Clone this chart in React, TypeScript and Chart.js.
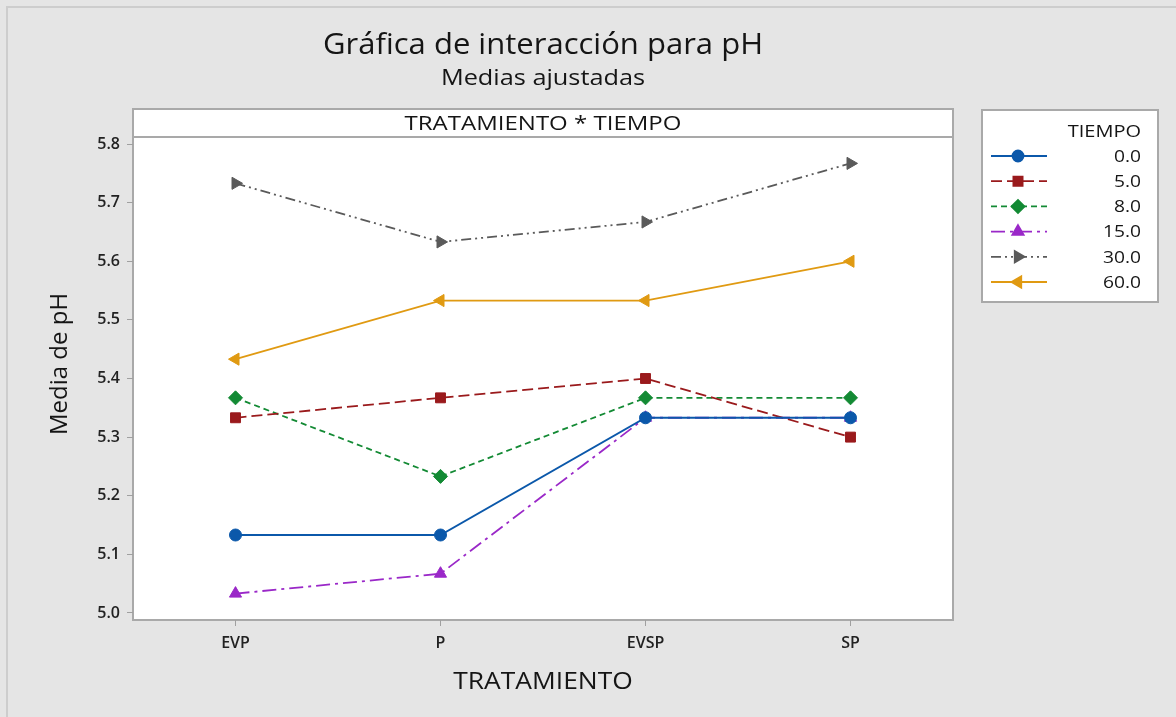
import React, { useEffect, useRef } from "react";
import { Chart, registerables } from "chart.js";
import { drawPoint } from "chart.js/helpers";

Chart.register(...registerables);

const categories = ["EVP", "P", "EVSP", "SP"];
const tiempoLabels = ["0.0", "5.0", "8.0", "15.0", "30.0", "60.0"];
const t0 = [5.133, 5.133, 5.333, 5.333];
const t5 = [5.333, 5.367, 5.4, 5.3];
const t8 = [5.367, 5.233, 5.367, 5.367];
const t15 = [5.033, 5.067, 5.333, 5.333];
const t30 = [5.733, 5.633, 5.667, 5.767];
const t60 = [5.433, 5.533, 5.533, 5.6];
const yTicks = [5.0, 5.1, 5.2, 5.3, 5.4, 5.5, 5.6, 5.7, 5.8];

const seriesValues = [t0, t5, t8, t15, t30, t60];
const colors = ["#0b58aa", "#9a1a1c", "#138a34", "#9a28c8", "#5a5a5a", "#e09a12"];
const dashes: number[][] = [[], [11, 5], [6, 4], [14, 5, 3, 5], [10, 4, 2, 4, 2, 4], []];
const pointStyles = ["circle", "rect", "rectRot", "triangle", "triangle", "triangle"];
const rotations = [0, 0, 0, 0, 90, -90];
const radii = [6, 7, 7, 7, 7, 7];

const FONT = "'Open Sans', 'Noto Sans', sans-serif";
const TEXT = "#151515";

function wideText(ctx: any, text: string, x: number, y: number, font: string, sx: number, align: string, rot = 0) {
  ctx.save();
  ctx.translate(x, y);
  if (rot) ctx.rotate(rot);
  ctx.scale(sx, 1);
  ctx.font = font;
  ctx.fillStyle = TEXT;
  ctx.textAlign = align;
  ctx.textBaseline = "middle";
  ctx.fillText(text, 0, 0);
  ctx.restore();
}

const decor = {
  id: "decor",
  beforeDraw(chart: any) {
    const { ctx, chartArea: a, width, height } = chart;
    const cx = (a.left + a.right) / 2;
    ctx.save();
    ctx.fillStyle = "#e5e5e5";
    ctx.fillRect(0, 0, width, height);
    ctx.strokeStyle = "#cdcdcd";
    ctx.lineWidth = 2;
    ctx.beginPath();
    ctx.moveTo(7, height + 5);
    ctx.lineTo(7, 7);
    ctx.lineTo(width + 5, 7);
    ctx.stroke();
    ctx.fillStyle = "#ffffff";
    ctx.fillRect(a.left, 109, a.right - a.left, a.top - 109);
    ctx.fillRect(a.left, a.top, a.right - a.left, a.bottom - a.top);
    ctx.strokeStyle = "#a9a9a9";
    ctx.lineWidth = 2;
    ctx.strokeRect(a.left, 109, a.right - a.left, a.top - 109);
    ctx.strokeRect(a.left, a.top, a.right - a.left, a.bottom - a.top);
    ctx.restore();
    wideText(ctx, "TRATAMIENTO * TIEMPO", cx, 124, `500 20px ${FONT}`, 1.2, "center");
    wideText(ctx, "Gráfica de interacción para pH", cx, 46, `500 29px ${FONT}`, 1.07, "center");
    wideText(ctx, "Medias ajustadas", cx, 79, `500 22px ${FONT}`, 1.15, "center");
    wideText(ctx, "TRATAMIENTO", cx, 682, `500 24px ${FONT}`, 1.1, "center");
    wideText(ctx, "Media de pH", 60, 364, `500 24px ${FONT}`, 1.0, "center", -Math.PI / 2);
  },
  afterDraw(chart: any) {
    const { ctx } = chart;
    ctx.save();
    const bx = 982, by = 110, bw = 176, bh = 192;
    ctx.fillStyle = "#ffffff";
    ctx.fillRect(bx, by, bw, bh);
    ctx.strokeStyle = "#a9a9a9";
    ctx.lineWidth = 2;
    ctx.strokeRect(bx, by, bw, bh);
    ctx.restore();
    wideText(ctx, "TIEMPO", 1141, 132, `500 16px ${FONT}`, 1.25, "right");
    chart.data.datasets.forEach((ds: any, i: number) => {
      const y = 156 + i * 25.2;
      ctx.save();
      ctx.strokeStyle = ds.borderColor;
      ctx.lineWidth = 1.8;
      ctx.setLineDash(ds.borderDash || []);
      ctx.beginPath();
      ctx.moveTo(991, y);
      ctx.lineTo(1047, y);
      ctx.stroke();
      ctx.setLineDash([]);
      ctx.fillStyle = ds.borderColor;
      ctx.strokeStyle = ds.borderColor;
      drawPoint(ctx, { pointStyle: ds.pointStyle, rotation: ds.pointRotation, radius: ds.pointRadius - 0.5, borderWidth: 1 }, 1018, y);
      ctx.restore();
      wideText(ctx, ds.label, 1141, y + 1, `500 17px ${FONT}`, 1.13, "right");
    });
  },
};

export default function App() {
  const ref = useRef<HTMLCanvasElement>(null);
  useEffect(() => {
    document.body.style.margin = "0";
    const datasets = seriesValues.map((vals, i) => ({
      label: tiempoLabels[i],
      data: vals,
      borderColor: colors[i],
      backgroundColor: colors[i],
      borderWidth: 1.8,
      borderDash: dashes[i],
      pointStyle: pointStyles[i],
      pointRotation: rotations[i],
      pointRadius: radii[i],
      pointBackgroundColor: colors[i],
      pointBorderColor: colors[i],
      pointBorderWidth: 1,
      tension: 0,
    }));
    const chart = new Chart(ref.current!, {
      type: "line",
      data: { labels: categories, datasets },
      plugins: [decor],
      options: {
        animation: false,
        responsive: false,
        maintainAspectRatio: false,
        layout: { padding: { top: 137, right: 223, left: 0, bottom: 0 } },
        plugins: { legend: { display: false }, title: { display: false }, tooltip: { enabled: false } },
        scales: {
          x: {
            type: "category",
            offset: true,
            grid: { display: true, drawOnChartArea: false, offset: false, tickLength: 6, color: "#a0a0a0", lineWidth: 1 },
            border: { display: false },
            ticks: { color: "#222", font: { family: FONT, size: 16, weight: "600" }, padding: 8, maxRotation: 0 },
            afterFit: (s: any) => { s.height = 97; },
          },
          y: {
            type: "linear",
            min: 4.988,
            max: 5.812,
            afterBuildTicks: (s: any) => { s.ticks = yTicks.map((v) => ({ value: v })); },
            grid: { display: true, drawOnChartArea: false, tickLength: 6, color: "#a0a0a0", lineWidth: 1 },
            border: { display: false },
            ticks: { color: "#222", font: { family: FONT, size: 16, weight: "600" }, padding: 7, callback: (v: any) => Number(v).toFixed(1) },
            afterFit: (s: any) => { s.width = 133; },
          },
        },
      } as any,
    });
    return () => chart.destroy();
  }, []);
  return (
    <div style={{ width: 1176, height: 717 }}>
      <canvas ref={ref} width={1176} height={717} style={{ display: "block", width: 1176, height: 717 }} />
    </div>
  );
}
